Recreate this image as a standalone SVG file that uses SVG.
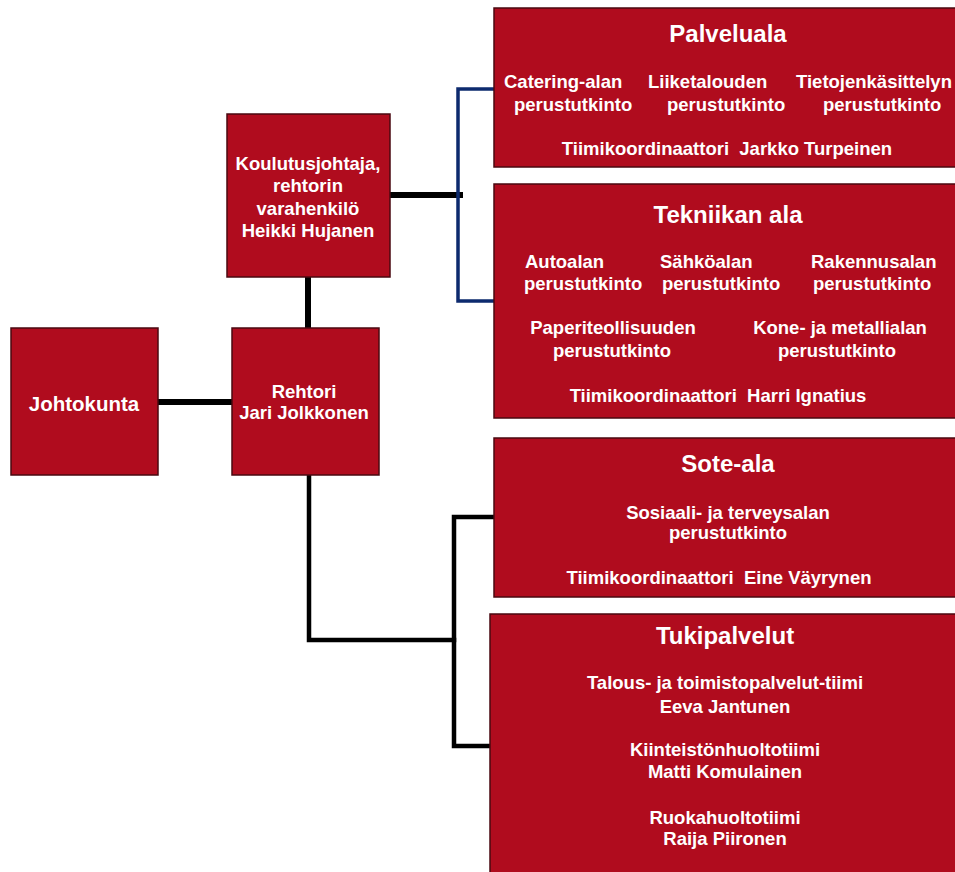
<svg xmlns="http://www.w3.org/2000/svg" width="955" height="872" viewBox="0 0 955 872">
  <style>
    .box { fill: #B00C1E; stroke: #4a0810; stroke-width: 1.5; }
    text { font-family: "Liberation Sans", Arial, sans-serif; font-weight: bold; fill: #ffffff; }
    .t { font-size: 18.5px; }
    .c { text-anchor: middle; }
    .h { font-size: 24px; text-anchor: middle; }
    .lnk { fill: none; stroke: #000000; stroke-linecap: square; }
    .blue { fill: none; stroke: #0d2a6e; stroke-width: 3.5; }
  </style>
  <rect width="955" height="872" fill="#ffffff"/>

  <!-- connectors -->
  <g id="connectors">
    <line class="lnk" x1="158" y1="402" x2="232" y2="402" stroke-width="6"/>
    <line class="lnk" x1="308" y1="277" x2="308" y2="328" stroke-width="6"/>
    <line class="lnk" x1="390" y1="195" x2="460" y2="195" stroke-width="6"/>
    <path class="blue" d="M494 89 H458 V301 H494"/>
    <path class="lnk" d="M309 475 V640 H454" stroke-width="4.5"/>
    <path class="lnk" d="M494 517 H454 V746 H490" stroke-width="4.5"/>
  </g>

  <!-- board -->
  <g id="johtokunta">
    <rect class="box" x="11" y="328" width="147" height="147"/>
    <text class="c" x="84" y="410.5" font-size="20.5px">Johtokunta</text>
  </g>

  <!-- principal -->
  <g id="rehtori">
    <rect class="box" x="232" y="328" width="147" height="147"/>
    <text class="t c" x="304" y="397.5">Rehtori</text>
    <text class="t c" x="304" y="418.5">Jari Jolkkonen</text>
  </g>

  <!-- director of education -->
  <g id="koulutusjohtaja">
    <rect class="box" x="227" y="114" width="163" height="163"/>
    <text class="t c" x="308" y="169.5">Koulutusjohtaja,</text>
    <text class="t c" x="308" y="192">rehtorin</text>
    <text class="t c" x="308" y="214.5">varahenkilö</text>
    <text class="t c" x="308" y="237">Heikki Hujanen</text>
  </g>

  <!-- service sector -->
  <g id="palveluala">
    <rect class="box" x="494" y="8" width="470" height="159"/>
    <text class="h" x="728" y="42">Palveluala</text>
    <text class="t" x="504" y="87.5">Catering-alan</text>
    <text class="t" x="514" y="111">perustutkinto</text>
    <text class="t" x="648" y="87.5">Liiketalouden</text>
    <text class="t" x="667" y="111">perustutkinto</text>
    <text class="t" x="796" y="87.5">Tietojenkäsittelyn</text>
    <text class="t" x="823" y="111">perustutkinto</text>
    <text class="t c" x="727" y="155">Tiimikoordinaattori&#160; Jarkko Turpeinen</text>
  </g>

  <!-- technology sector -->
  <g id="tekniikan-ala">
    <rect class="box" x="494" y="184" width="470" height="234"/>
    <text class="h" x="728" y="222.5">Tekniikan ala</text>
    <text class="t" x="525" y="267.5">Autoalan</text>
    <text class="t" x="524" y="289.5">perustutkinto</text>
    <text class="t" x="660" y="267.5">Sähköalan</text>
    <text class="t" x="662" y="289.5">perustutkinto</text>
    <text class="t" x="811" y="267.5">Rakennusalan</text>
    <text class="t" x="813" y="289.5">perustutkinto</text>
    <text class="t c" x="613" y="333.5">Paperiteollisuuden</text>
    <text class="t c" x="612" y="356.5">perustutkinto</text>
    <text class="t c" x="840" y="333.5">Kone- ja metallialan</text>
    <text class="t c" x="837" y="356.5">perustutkinto</text>
    <text class="t c" x="718" y="401.5">Tiimikoordinaattori&#160; Harri Ignatius</text>
  </g>

  <!-- social and health sector -->
  <g id="sote-ala">
    <rect class="box" x="494" y="438" width="470" height="159"/>
    <text class="h" x="728" y="471.5">Sote-ala</text>
    <text class="t c" x="728" y="518.5">Sosiaali- ja terveysalan</text>
    <text class="t c" x="728" y="538.5">perustutkinto</text>
    <text class="t c" x="719" y="583.5">Tiimikoordinaattori&#160; Eine Väyrynen</text>
  </g>

  <!-- support services -->
  <g id="tukipalvelut">
    <rect class="box" x="490" y="614" width="474" height="270"/>
    <text class="h" x="725" y="643.5">Tukipalvelut</text>
    <text class="t c" x="725" y="689">Talous- ja toimistopalvelut-tiimi</text>
    <text class="t c" x="725" y="712.5">Eeva Jantunen</text>
    <text class="t c" x="725" y="755.5">Kiinteistönhuoltotiimi</text>
    <text class="t c" x="725" y="777.5">Matti Komulainen</text>
    <text class="t c" x="725" y="823.5">Ruokahuoltotiimi</text>
    <text class="t c" x="725" y="844.5">Raija Piironen</text>
  </g>
</svg>
